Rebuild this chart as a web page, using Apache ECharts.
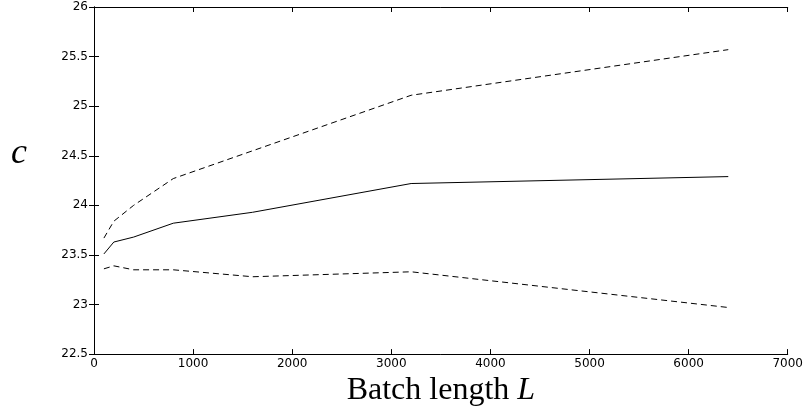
<!DOCTYPE html>
<html>
<head>
<meta charset="utf-8">
<script src="https://cdn.jsdelivr.net/npm/echarts@6/dist/echarts.min.js"></script>
<style>
  html, body { margin: 0; padding: 0; background: #fff; }
  #chart { width: 806px; height: 412px; }
</style>
</head>
<body>
<div id="chart"></div>
<script>
// batch lengths
const batchLengths = [100, 200, 400, 800, 1600, 3200, 6400];
// mean estimate and upper / lower bounds
const meanC = [23.51, 23.63, 23.68, 23.82, 23.93, 24.22, 24.29];
const upperC = [23.67, 23.84, 24.0, 24.27, 24.55, 25.11, 25.57];
const lowerC = [23.36, 23.39, 23.35, 23.35, 23.28, 23.33, 22.97];

const xTicks = { min: 0, max: 7000, interval: 1000 };
const yTicks = { min: 22.5, max: 26, interval: 0.5 };

function pairs(ys) {
    return batchLengths.map((x, i) => [x, ys[i]]);
}

const chart = echarts.init(document.getElementById('chart'));

const axisLine = { show: true, lineStyle: { color: '#000', width: 1 } };
const tickLabel = {
    color: '#000',
    fontFamily: 'DejaVu Sans',
    fontSize: 12
};
// matlab style: small ticks pointing into the plot
function innerTicks() {
    return { show: true, inside: true, length: 5, lineStyle: { color: '#000' } };
}

const option = {
    animation: false,
    backgroundColor: '#fff',
    grid: {
        left: 94,
        right: 16,
        top: 7,
        bottom: 49
    },
    xAxis: [
        {
            type: 'value',
            min: xTicks.min,
            max: xTicks.max,
            interval: xTicks.interval,
            axisLine: axisLine,
            axisTick: innerTicks(),
            axisLabel: Object.assign({ margin: 4, formatter: v => String(v) }, tickLabel),
            splitLine: { show: false },
            name: '{n|Batch length }{i|L}',
            nameLocation: 'middle',
            nameGap: 14,
            nameTextStyle: {
                rich: {
                    n: { fontFamily: 'Liberation Serif', fontSize: 32, color: '#000' },
                    i: { fontFamily: 'Liberation Serif', fontStyle: 'italic', fontSize: 32, color: '#000' }
                }
            }
        },
        {
            type: 'value',
            position: 'top',
            min: xTicks.min,
            max: xTicks.max,
            interval: xTicks.interval,
            axisLine: axisLine,
            axisTick: innerTicks(),
            axisLabel: { show: false },
            splitLine: { show: false }
        }
    ],
    yAxis: [
        {
            type: 'value',
            min: yTicks.min,
            max: yTicks.max,
            interval: yTicks.interval,
            axisLine: axisLine,
            axisTick: innerTicks(),
            axisLabel: Object.assign({ margin: 6, formatter: v => String(v) }, tickLabel),
            splitLine: { show: false }
        },
        {
            type: 'value',
            position: 'right',
            min: yTicks.min,
            max: yTicks.max,
            interval: yTicks.interval,
            axisLine: axisLine,
            axisTick: innerTicks(),
            axisLabel: { show: false },
            splitLine: { show: false }
        }
    ],
    graphic: [
        {
            type: 'text',
            left: 11,
            top: 136,
            style: {
                text: 'c',
                fontFamily: 'Liberation Serif',
                fontStyle: 'italic',
                fontSize: 36,
                fill: '#000'
            }
        }
    ],
    series: [
        {
            name: 'upper',
            type: 'line',
            data: pairs(upperC),
            symbol: 'none',
            lineStyle: { color: '#000', width: 1, type: [6, 4] }
        },
        {
            name: 'mean',
            type: 'line',
            data: pairs(meanC),
            symbol: 'none',
            lineStyle: { color: '#000', width: 1, type: 'solid' }
        },
        {
            name: 'lower',
            type: 'line',
            data: pairs(lowerC),
            symbol: 'none',
            lineStyle: { color: '#000', width: 1, type: [6, 4] }
        }
    ]
};

chart.setOption(option);

window.addEventListener('resize', function() {
    chart.resize();
});
</script>
</body>
</html>
